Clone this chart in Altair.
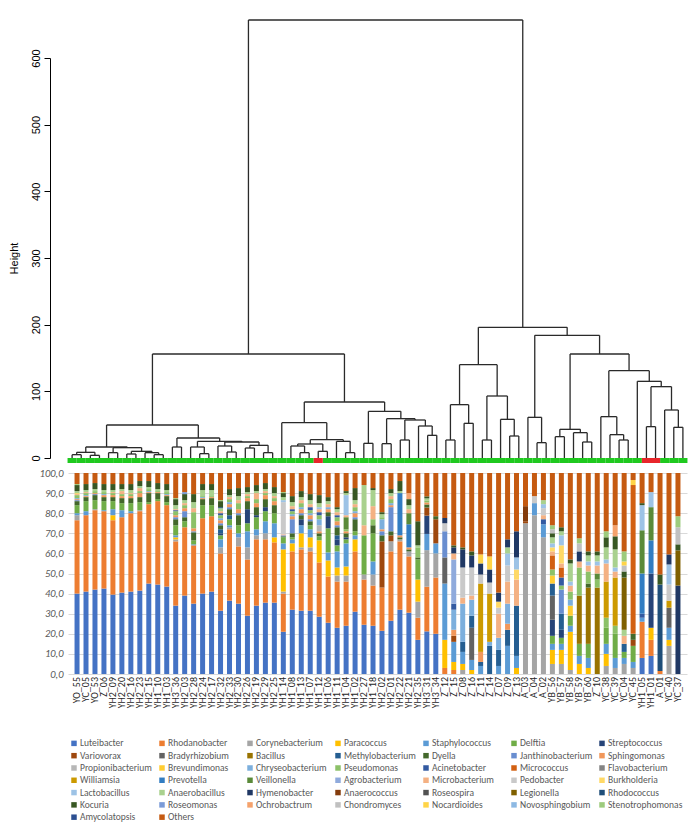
import altair as alt
import pandas as pd

# ---------------- data ----------------
samples = ["YO_55", "YC_05", "YO_53", "Z_06", "YH2_09", "YH2_20", "YH2_16", "YH2_23", "YH2_15", "YH1_10",
           "YH1_03", "YH3_36", "YH2_03", "YH2_28", "YH2_24", "YH2_17", "YH2_32", "YH2_33", "YH2_30", "YH2_26",
           "YH2_19", "YH2_29", "YH2_25", "YH1_14", "YH1_08", "YH1_13", "YH1_07", "YH1_12", "YH1_06", "YH1_11",
           "YH1_04", "YH1_02", "YH2_27", "YH1_18", "YH2_02", "YH2_01", "YH2_22", "YH2_21", "YH2_35", "YH3_31",
           "YH3_34", "Z_12", "Z_15", "Z_08", "Z_16", "Z_11", "Z_14", "Z_07", "Z_09", "Z_13",
           "A_03", "A_04", "A_02", "YB_56", "YB_57", "YB_58", "YB_59", "YB_60", "Z_10", "YC_38",
           "YC_39", "YC_04", "YC_45", "YH1_05", "YH1_01", "A_01", "YC_40", "YC_37"]

genera = ["Luteibacter", "Rhodanobacter", "Corynebacterium", "Paracoccus", "Staphylococcus", "Delftia", "Streptococcus",
          "Variovorax", "Bradyrhizobium", "Bacillus", "Methylobacterium", "Dyella", "Janthinobacterium", "Sphingomonas",
          "Propionibacterium", "Brevundimonas", "Chryseobacterium", "Pseudomonas", "Acinetobacter", "Micrococcus", "Flavobacterium",
          "Williamsia", "Prevotella", "Veillonella", "Agrobacterium", "Microbacterium", "Pedobacter", "Burkholderia",
          "Lactobacillus", "Anaerobacillus", "Hymenobacter", "Anaerococcus", "Roseospira", "Legionella", "Rhodococcus",
          "Kocuria", "Roseomonas", "Ochrobactrum", "Chondromyces", "Nocardioides", "Novosphingobium", "Stenotrophomonas",
          "Amycolatopsis", "Others"]

palette = ["#4472C4", "#ED7D31", "#A5A5A5", "#FFC000", "#5B9BD5", "#70AD47", "#264478",
           "#9E480E", "#636363", "#997300", "#255E91", "#43682B", "#698ED0", "#F1975A",
           "#B7B7B7", "#FFCD33", "#7CAFDD", "#8CC168", "#335AA1", "#D26012", "#848484",
           "#CC9A00", "#327DC2", "#5A8A39", "#8FAADC", "#F4B183", "#C9C9C9", "#FFD966",
           "#9DC3E6", "#A9D18E", "#203864", "#843C0C", "#525252", "#7F6000", "#1F4E79",
           "#385723", "#7A9BD8", "#F5A26C", "#C0C0C0", "#FFD447", "#8DB9E3", "#9DCB7D",
           "#2C4F91", "#C55A11"]

# dense series (one value per sample, in sample order)
luteibacter = [40, 41, 42, 42.5, 39.5, 40.5, 41, 41.5, 45, 44.5,
               43.5, 34, 39, 35, 40, 41, 31.5, 36.5, 35, 29,
               34, 35.5, 35.5, 21, 32, 31.5, 31.5, 28.5, 25.5, 23,
               24, 31, 24.5, 24, 21.5, 26.5, 32, 30.5, 17, 21,
               20, 0, 0, 0, 0, 0, 0, 0, 0, 0,
               0, 0, 0, 0, 0, 0, 0, 0, 0, 0,
               0, 0, 0, 8, 9, 0, 0, 0]
rhodanobacter = [36.5, 38, 39.5, 38.5, 37, 37.5, 39, 39.5, 39.5, 41.5,
                 40.5, 32, 34, 29, 37.5, 37.5, 28.5, 35.5, 28.5, 28,
                 33, 31.5, 30, 19, 29, 30.5, 29.5, 27, 23, 23,
                 22, 30, 22.5, 20, 21.5, 34.5, 34, 28, 11, 22,
                 28, 3, 2, 0, 0, 0, 0, 0, 0, 0,
                 0, 0, 0, 0, 0, 0, 0, 0, 0, 0,
                 0, 0, 0, 18, 8, 1.5, 0, 0]
corynebacterium = [2.5, 0, 0.5, 0, 0, 0, 0, 0.5, 0, 0,
                   0, 1, 0, 0, 0, 0, 3, 1, 4.5, 6,
                   2, 3, 0, 1, 0, 1, 2, 0, 0, 3,
                   3, 0, 2.5, 5.5, 0, 5, 1, 2.5, 8, 18,
                   12, 0, 0, 2, 0, 0, 0, 0, 0, 0,
                   75, 79, 68, 5, 5, 2, 0, 0, 0, 4,
                   3, 5, 3, 0, 0, 0, 14, 0]
staphylococcus = [1, 2, 0, 0.5, 3, 3.5, 1, 0, 0, 0,
                  0, 1, 0, 0.5, 0, 0, 4, 1, 2, 8,
                  3, 6, 7, 3, 2, 4, 4, 0, 4, 8,
                  11.5, 2, 0, 6.5, 0, 0, 0, 0, 0, 8,
                  5, 28, 10, 6, 5, 4, 0, 4, 14, 6,
                  0, 6, 6.5, 3, 3, 3, 4, 5, 0, 5,
                  5, 3, 3, 2, 0, 0, 6, 0]
delftia = [4, 5, 4.5, 4.5, 4, 3.5, 4, 4, 1, 1,
           1.5, 5, 3, 2, 6.5, 5.5, 2, 3, 4, 4,
           6, 5, 5, 3, 1, 0, 2, 2, 12, 3,
           2, 2, 19.5, 14, 0, 0, 0, 0, 10, 0,
           0, 0, 0, 0, 0, 0, 0, 0, 0, 0,
           0, 0, 0, 4, 3, 5, 6, 7, 0, 8,
           12, 3, 8, 0, 0, 0, 0, 0]
dyella = [2, 2, 2.5, 2, 2, 2.5, 2.5, 2.5, 4.5, 3,
          3, 3, 2, 4, 3, 3.5, 2, 3, 5, 4,
          4, 4, 4, 0.5, 2, 2, 2, 1.5, 2, 4,
          2, 6, 0, 4, 3, 2, 1, 1, 1, 1.5,
          1.5, 0, 0, 0, 0, 0, 0, 0, 0, 0,
          0, 0, 0, 0, 0, 0, 0, 2, 0, 0,
          0, 0, 3, 0, 0, 0, 0, 0]
sphingomonas = [0.5, 0.5, 0.5, 1, 1, 1, 1, 2, 0.5, 0.5,
                0.5, 1, 1.5, 1.5, 0.5, 0.5, 1.5, 1.5, 2, 1.5,
                2, 2, 2, 0, 1.5, 2, 2, 1, 1.5, 2,
                1, 2, 0, 0, 1, 1, 1, 1, 0, 1,
                0, 0, 3, 0, 0, 5, 0, 0, 3, 0,
                0, 0, 0, 0, 0, 0, 0, 0, 0, 0,
                0, 0, 0, 0, 0, 0, 0, 0]
pseudomonas = [1.5, 1, 1, 1, 1, 1, 1, 1, 1, 0.5,
               1, 2, 1.5, 8, 0.5, 0.5, 1.5, 1.5, 3, 1,
               2, 1, 1.5, 0, 1.5, 2, 1.5, 2, 0, 2,
               1, 2, 0, 3, 1, 2, 0, 0, 5, 1,
               0, 0, 0, 0, 0, 0, 0, 0, 0, 0,
               0, 0, 0, 3, 2, 4, 14, 6, 4, 5,
               4, 0, 0, 0, 0, 0, 0, 0]
microbacterium = [0.5, 0.5, 0, 0, 0.5, 1.5, 0.5, 1.5, 0, 0,
                  0, 0.5, 1, 2, 0, 0, 1, 1, 1.5, 1,
                  3, 1, 1, 0.5, 1.5, 1.5, 1.5, 1.5, 1.5, 1.5,
                  1, 1.5, 5, 6.5, 0, 1.5, 0, 2, 0, 0,
                  0, 0, 3, 3, 2, 0, 0, 12, 11, 13,
                  0, 0, 2, 2, 2, 3, 3, 3, 4, 9,
                  3, 4, 0, 0, 0, 0, 0, 0]
anaerobacillus = [1, 1, 1, 1, 1, 1, 1.5, 1, 1, 1,
                  1, 2, 1.5, 3, 3, 3, 1.5, 1, 2, 1,
                  1, 1, 1.5, 1.5, 2, 1.5, 2, 2, 1.5, 1.5,
                  1, 2, 20, 8, 1.5, 1.5, 1, 2, 1, 1,
                  0, 0, 0, 0, 0, 0, 0, 0, 3, 0,
                  0, 0, 2, 3, 2, 9, 0, 3, 3, 6,
                  9, 3, 0, 0, 0, 0, 0, 0]
kocuria = [3, 3, 3, 3, 3, 2.5, 3, 2.5, 3, 3,
           3, 3, 3, 4, 3, 3, 3, 3, 4, 2.5,
           3, 3, 3, 2, 3, 3, 3, 4, 2, 1,
           1, 6, 0, 1, 1, 2, 5, 3, 12, 1,
           0, 0, 1, 1, 2, 0, 0, 0, 0, 0,
           0, 0, 0, 2, 2, 2, 0, 2, 2, 5,
           6.5, 3, 0, 1, 0, 5, 0, 3]
others = [5.5, 5.5, 5, 5.5, 5.5, 5.5, 5.5, 4, 4, 5,
          5.5, 12.5, 9.5, 10.5, 5.5, 5.5, 13.5, 8, 7.5, 7,
          6, 5, 7, 9.5, 11.5, 9, 10.5, 11, 12, 17,
          9, 7.5, 6, 7.5, 19.5, 8, 4, 10, 24, 11.5,
          21.5, 22.4, 36, 37, 39, 40.5, 41.5, 59.5, 33, 29,
          16.5, 11.5, 13.5, 26, 27, 43, 32.5, 39, 39, 29,
          26, 39, 3.5, 15, 9.5, 50.5, 40.5, 21.5]

# sparse series: {sample number (1-based): value}
paracoccus = {5: 2.5, 12: 1, 23: 2.5, 24: 21, 25: 4, 26: 7, 27: 5, 28: 11, 29: 8, 30: 4, 31: 4.5, 32: 6,
              39: 11, 42: 14, 43: 4, 44: 3, 45: 2, 50: 3, 54: 7, 55: 7, 56: 19, 57: 5, 58: 3, 60: 6, 65: 6, 67: 3}
streptococcus = {17: 1, 20: 7, 21: 1, 22: 2, 26: 3, 29: 6, 30: 3, 31: 1, 40: 9, 54: 8, 55: 4, 65: 27}
variovorax = {35: 23, 36: 3, 40: 4, 41: 12, 43: 3, 51: 1, 63: 3}
bradyrhizobium = {42: 13, 45: 16, 54: 12, 67: 10}
bacillus = {57: 24, 58: 28, 59: 43}
methylobacterium = {17: 2, 18: 2, 30: 2, 44: 5, 45: 6, 46: 2, 47: 14, 48: 8, 49: 8, 50: 25, 54: 6, 55: 8, 62: 4}
janthinobacterium = {1: 0.5, 3: 0.5, 12: 1, 13: 3, 14: 0.5, 17: 1, 18: 1, 19: 1, 24: 0.5, 25: 7, 26: 1, 27: 1,
                     30: 1, 32: 1, 35: 2, 36: 12, 42: 13, 55: 12}
propionibacterium = {28: 3}
brevundimonas = {54: 4, 56: 5}
chryseobacterium = {1: 0.5, 2: 0.5, 4: 0.5, 9: 0.5, 11: 0.5, 15: 0.5, 17: 1, 18: 1, 25: 1, 26: 1, 27: 1, 28: 3,
                    29: 1, 32: 1, 35: 5, 36: 1, 43: 10, 44: 19, 45: 8, 47: 2, 48: 6, 49: 10, 56: 3}
acinetobacter = {12: 0.5, 17: 1, 25: 1, 27: 1.5, 28: 1.5, 30: 1, 43: 3, 53: 2.5, 55: 4, 64: 2}
micrococcus = {54: 7, 55: 5, 63: 74}
williamsia = {46: 34, 47: 24, 60: 18, 61: 24, 67: 3.5}
prevotella = {37: 21, 38: 11.5, 64: 20, 65: 16.5}
veillonella = {31: 6, 38: 5.5, 59: 3, 64: 21.5, 65: 16.5}
agrobacterium = {43: 22}
pedobacter = {24: 16, 42: 4, 44: 15, 45: 14, 46: 4.5, 47: 5.5, 48: 3, 49: 8, 52: 3.5, 53: 3.5, 67: 8}
burkholderia = {1: 0.5, 48: 3, 50: 5, 54: 2, 55: 9}
lactobacillus = {24: 1, 28: 1, 31: 10, 49: 6, 50: 6, 53: 2, 54: 2, 55: 5, 56: 2, 58: 2, 59: 2, 60: 2, 61: 2,
                 64: 12.5, 65: 7.5, 67: 10}
hymenobacter = {42: 2.6, 43: 3, 44: 9, 45: 6, 46: 5.5, 47: 6.5, 48: 4.5, 49: 4, 50: 13, 57: 5, 67: 5, 68: 44}
anaerococcus = {51: 7.5}
legionella = {62: 26, 68: 17.5}
rhodococcus = {17: 0.5, 66: 43}
roseomonas = {13: 1}
ochrobactrum = {38: 3, 61: 5.5}
chondromyces = {54: 2, 57: 4, 62: 3, 68: 8.5}
nocardioides = {46: 4.5, 47: 6.5, 62: 2, 63: 2.5}
stenotrophomonas = {1: 0.5, 12: 0.5, 17: 0.5, 24: 0.5, 54: 2, 57: 2.5, 60: 3, 62: 5, 68: 5.5}

# dendrogram: (height, left, right); leaves are sample numbers
tree = (657,
        (156,
         (49.5,
          (16.5, (8.5, (5, 1, 2), (4, 3, 4)),
           (15.5, (8, 5, 6), (10, (6, 7, 8), (8, 9, (5, 10, 11))))),
          (30, (16.5, 12, 13),
           (25, (16.5, 14, (6.5, 15, 16)),
            (24, (18, 17, (9, 18, 19)), (19, (15, 20, 21), (8, 22, 23)))))),
         (84,
          (53, 24, (27.5, (21, (18, 25, (8, 26, 27)), (10, 28, 29)), (25, 30, (8, 31, 32)))),
          (70, (22, 33, 34), (59, (21.5, 35, 36), (57, (27, 37, 38), (48, 39, (34, 40, 41))))))),
        (196,
         (140,
          (80, (27, 42, 43), (52, 44, 45)),
          (93, (27, 46, 47), (58, 48, (33, 49, 50)))),
         (184,
          (61, 51, (23, 52, 53)),
          (156,
           (43, (32, 54, 55), (38, 56, (24, 57, 58))),
           (131,
            (62, 59, (35, 60, (27, 61, 62))),
            (115, 63, (107, (47, 64, 65), (72, 66, (46, 67, 68)))))))))
red_leaves = [28, 64, 65]

# ---------------- build tables ----------------
dense = {"Luteibacter": luteibacter, "Rhodanobacter": rhodanobacter, "Corynebacterium": corynebacterium,
         "Staphylococcus": staphylococcus, "Delftia": delftia, "Dyella": dyella, "Sphingomonas": sphingomonas,
         "Pseudomonas": pseudomonas, "Microbacterium": microbacterium, "Anaerobacillus": anaerobacillus,
         "Kocuria": kocuria, "Others": others}
sparse = {"Paracoccus": paracoccus, "Streptococcus": streptococcus, "Variovorax": variovorax,
          "Bradyrhizobium": bradyrhizobium, "Bacillus": bacillus, "Methylobacterium": methylobacterium,
          "Janthinobacterium": janthinobacterium, "Propionibacterium": propionibacterium,
          "Brevundimonas": brevundimonas, "Chryseobacterium": chryseobacterium, "Acinetobacter": acinetobacter,
          "Micrococcus": micrococcus, "Williamsia": williamsia, "Prevotella": prevotella, "Veillonella": veillonella,
          "Agrobacterium": agrobacterium, "Pedobacter": pedobacter, "Burkholderia": burkholderia,
          "Lactobacillus": lactobacillus, "Hymenobacter": hymenobacter, "Anaerococcus": anaerococcus,
          "Legionella": legionella, "Rhodococcus": rhodococcus, "Roseomonas": roseomonas,
          "Ochrobactrum": ochrobactrum, "Chondromyces": chondromyces, "Nocardioides": nocardioides,
          "Stenotrophomonas": stenotrophomonas}

rows = []
for gi, g in enumerate(genera):
    if g in dense:
        vals = {i + 1: v for i, v in enumerate(dense[g])}
    elif g in sparse:
        vals = sparse[g]
    else:
        continue
    for k, v in vals.items():
        if v > 0:
            rows.append({"idx": k, "sample": samples[k - 1], "genus": g, "value": v, "order": gi})
bar_df = pd.DataFrame(rows)
sample_df = pd.DataFrame({"idx": list(range(1, len(samples) + 1)), "sample": samples})

segs = []


def walk(node):
    if isinstance(node, int):
        return float(node), 0.0
    h, a, b = node
    xa, ha = walk(a)
    xb, hb = walk(b)
    segs.append({"x0": xa, "x1": xa, "h0": ha, "h1": h})
    segs.append({"x0": xb, "x1": xb, "h0": hb, "h1": h})
    segs.append({"x0": xa, "x1": xb, "h0": h, "h1": h})
    return (xa + xb) / 2.0, h


walk(tree)
seg_df = pd.DataFrame(segs)
strip_df = pd.DataFrame({"xa": [i - 0.5 for i in range(1, len(samples) + 1)],
                         "xb": [i + 0.5 for i in range(1, len(samples) + 1)],
                         "ya": [-7.5] * len(samples), "yb": [0] * len(samples),
                         "red": [i in red_leaves for i in range(1, len(samples) + 1)]})

leg_df = pd.DataFrame({"genus": genera, "col": [i % 7 for i in range(len(genera))],
                       "row": [i // 7 for i in range(len(genera))]})

# ---------------- chart ----------------
W = 619
XS = alt.Scale(domain=[0.55, 68.45], nice=False, zero=False)
YD = alt.Scale(domain=[0, 600], nice=False, zero=False)
COLOR = alt.Scale(domain=genera, range=palette)
XLF = "Carlito, 'Liberation Sans Narrow', Roboto, 'Liberation Sans', sans-serif"
RF = "'Liberation Sans', Arial, sans-serif"

rules = alt.Chart(seg_df).mark_rule(color="#2a2a2a", strokeWidth=1.3).encode(
    x=alt.X("x0:Q", scale=XS, axis=None),
    x2="x1:Q",
    y=alt.Y("h0:Q", scale=YD, axis=alt.Axis(
        values=[0, 100, 200, 300, 400, 500, 600], title="Height", offset=18, tickSize=6,
        labelAngle=270, labelAlign="center", labelBaseline="bottom", labelPadding=3, grid=False,
        domainColor="#000000", tickColor="#000000", labelColor="#000000", labelFont=RF, labelFontSize=11,
        titleFont=RF, titleFontSize=11, titleFontWeight="normal", titleColor="#000000",
        titleX=-31, titleY=200, titleAngle=270, titleBaseline="bottom", titleAlign="center")),
    y2="h1:Q",
)
strip_g = alt.Chart(strip_df).transform_filter("!datum.red").mark_rect(color="#1fc91f").encode(
    x=alt.X("xa:Q", scale=XS, axis=None), x2="xb:Q", y=alt.Y("ya:Q", scale=YD), y2="yb:Q")
strip_r = alt.Chart(strip_df).transform_filter("datum.red").mark_rect(color="#e8262b").encode(
    x=alt.X("xa:Q", scale=XS, axis=None), x2="xb:Q", y=alt.Y("ya:Q", scale=YD), y2="yb:Q")
dendro = alt.layer(strip_g, strip_r, rules).properties(width=W, height=400)

bars = alt.Chart(bar_df).mark_bar(size=5).encode(
    x=alt.X("idx:Q", scale=XS, axis=None),
    y=alt.Y("value:Q", stack="normalize", scale=alt.Scale(domain=[0, 1], nice=False),
            axis=alt.Axis(values=[0, 0.1, 0.2, 0.3, 0.4, 0.5, 0.6, 0.7, 0.8, 0.9, 1.0],
                          labelExpr="replace(format(datum.value*100, '.1f'), '.', ',')",
                          domain=False, ticks=False, gridColor="#D9D9D9", labelFontStyle="italic",
                          labelColor="#595959", labelFont=XLF, labelFontSize=10.5, labelPadding=5, title="")),
    color=alt.Color("genus:N", scale=COLOR, legend=None),
    order=alt.Order("order:Q", sort="ascending"),
)
xlabels = alt.Chart(sample_df).mark_text(angle=270, align="right", baseline="middle", fontSize=10,
                                         font=XLF, color="#262626").encode(
    x=alt.X("idx:Q", scale=XS, axis=None), y=alt.value(204), text="sample:N")
barchart = alt.layer(bars, xlabels).properties(width=W, height=201)

# legend panel: its plot area starts right under the bar panel; rows sit in its lower part
lbase = alt.Chart(leg_df).encode(
    x=alt.X("col:O", scale=alt.Scale(type="band", paddingInner=0, paddingOuter=0), axis=None),
    y=alt.Y("row:Q", scale=alt.Scale(domain=[-4.42, 6.92], reverse=True, nice=False, zero=False), axis=None))
lsq = lbase.mark_square(size=30, opacity=1, xOffset=-38).encode(
    color=alt.Color("genus:N", scale=COLOR, legend=None))
ltx = lbase.mark_text(align="left", baseline="middle", dx=-32, fontSize=9.5, font=XLF,
                      color="#595959").encode(text="genus:N")
legend = alt.layer(lsq, ltx).properties(width=616, height=139.5)

chart = alt.vconcat(dendro, barchart, legend, spacing=15, bounds="flush").properties(
    padding={"left": 0, "top": 11, "right": 0, "bottom": 0}
).configure_view(strokeWidth=0)

chart.save("out.html", embed_options={"renderer": "svg", "actions": False})
